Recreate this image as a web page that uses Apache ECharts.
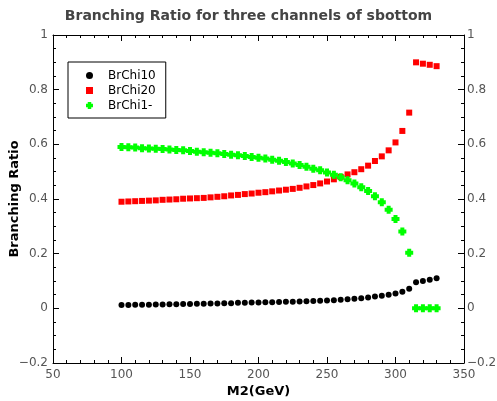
<!DOCTYPE html>
<html>
<head>
<meta charset="utf-8">
<script src="https://cdn.jsdelivr.net/npm/echarts@6/dist/echarts.min.js"></script>
<style>html,body{margin:0;padding:0;background:#fff;}#c{width:497px;height:401px;}</style>
</head>
<body>
<div id="c"></div>
<script>
var massValues = [100,105,110,115,120,125,130,135,140,145,150,155,160,165,170,175,180,185,190,195,200,205,210,215,220,225,230,235,240,245,250,255,260,265,270,275,280,285,290,295,300,305,310,315,320,325,330];
var brChi10 = [0.012,0.012,0.013,0.013,0.013,0.014,0.014,0.015,0.015,0.016,0.016,0.017,0.017,0.018,0.018,0.019,0.019,0.020,0.020,0.021,0.021,0.022,0.022,0.023,0.024,0.024,0.025,0.026,0.027,0.028,0.029,0.030,0.031,0.033,0.035,0.037,0.040,0.043,0.046,0.050,0.054,0.061,0.072,0.095,0.100,0.105,0.110];
var brChi20 = [0.390,0.391,0.392,0.393,0.394,0.395,0.397,0.398,0.399,0.401,0.402,0.403,0.404,0.406,0.408,0.410,0.413,0.415,0.418,0.420,0.423,0.425,0.428,0.431,0.434,0.437,0.441,0.446,0.451,0.457,0.464,0.472,0.481,0.490,0.498,0.509,0.522,0.539,0.556,0.578,0.607,0.649,0.716,0.900,0.895,0.891,0.886];
var brChi1m = [0.590,0.589,0.588,0.586,0.585,0.584,0.583,0.581,0.579,0.578,0.576,0.573,0.571,0.569,0.567,0.565,0.562,0.560,0.557,0.554,0.551,0.548,0.544,0.540,0.535,0.530,0.524,0.518,0.511,0.505,0.497,0.489,0.480,0.469,0.457,0.443,0.429,0.410,0.388,0.361,0.327,0.281,0.203,0,0,0,0];
var seriesNames = ['BrChi10','BrChi20','BrChi1-'];

function pairs(xs, ys){ return xs.map(function(x,i){ return [x, ys[i]]; }); }
function fmtY(v){ var s = (Math.round(v*10)/10).toString(); return s.replace('-', '\u2212'); }

var font = 'DejaVu Sans';
var tickLabel = { color:'#555', fontSize:12, fontFamily:font };
var plus = 'path://M2,0H6V2H8V6H6V8H2V6H0V2H2Z';

function axisCommon(extra){
  return Object.assign({
    axisLine:{ show:true, onZero:false, lineStyle:{ color:'#000', width:1 } },
    axisTick:{ show:true, inside:true, length:6, lineStyle:{ color:'#000' } },
    splitLine:{ show:false }
  }, extra);
}

var chart = echarts.init(document.getElementById('c'), null, {renderer:'canvas'});
chart.setOption({
  animation:false,
  backgroundColor:'#fff',
  title:{ text:'Branching Ratio for three channels of sbottom', left:'center', top:4,
    textStyle:{ fontFamily:font, fontSize:14, fontWeight:'bold', color:'#444' } },
  legend:{ orient:'vertical', left:68, top:62,
    data:[{name:seriesNames[0], icon:'circle'},{name:seriesNames[1], icon:'rect'},{name:seriesNames[2], icon:plus}],
    borderColor:'#000', borderWidth:1, padding:[7,10,6,18],
    itemWidth:7, itemHeight:7, itemGap:2,
    textStyle:{ fontFamily:font, fontSize:12, color:'#000', padding:[0,0,0,10], lineHeight:13 } },
  grid:{ left:53, right:33, top:35, bottom:38, containLabel:false, outerBoundsMode:'none' },
  xAxis:[axisCommon({
    type:'value', min:50, max:350, interval:50, position:'bottom',
    name:'M2(GeV)', nameLocation:'middle', nameGap:22, nameMoveOverlap:false,
    nameTextStyle:{ fontFamily:font, fontSize:13, fontWeight:'bold', color:'#000' },
    minorTick:{ show:true, splitNumber:5, length:3, lineStyle:{ color:'#000' } },
    axisLabel:Object.assign({ margin:6 }, tickLabel)
  }), axisCommon({
    type:'value', min:50, max:350, interval:50, position:'top',
    minorTick:{ show:true, splitNumber:5, length:3, lineStyle:{ color:'#000' } },
    axisLabel:{ show:false }
  })],
  yAxis:[axisCommon({
    type:'value', min:-0.2, max:1, interval:0.2, position:'left',
    name:'Branching Ratio', nameLocation:'middle', nameGap:32, nameMoveOverlap:false,
    nameTextStyle:{ fontFamily:font, fontSize:13, fontWeight:'bold', color:'#000' },
    minorTick:{ show:true, splitNumber:4, length:3, lineStyle:{ color:'#000' } },
    axisLabel:Object.assign({ margin:5, formatter:fmtY }, tickLabel)
  }), axisCommon({
    type:'value', min:-0.2, max:1, interval:0.2, position:'right',
    minorTick:{ show:true, splitNumber:4, length:3, lineStyle:{ color:'#000' } },
    axisLabel:Object.assign({ margin:3, formatter:fmtY }, tickLabel)
  })],
  series:[
    { name:seriesNames[0], type:'scatter', data:pairs(massValues, brChi10), symbol:'circle', symbolSize:6, itemStyle:{ color:'#000', opacity:1 } },
    { name:seriesNames[1], type:'scatter', data:pairs(massValues, brChi20), symbol:'rect', symbolSize:6, itemStyle:{ color:'#ff0000', opacity:1 } },
    { name:seriesNames[2], type:'scatter', data:pairs(massValues, brChi1m), symbol:plus, symbolSize:8, itemStyle:{ color:'#00ff00', opacity:1 } }
  ]
});
</script>
</body>
</html>
